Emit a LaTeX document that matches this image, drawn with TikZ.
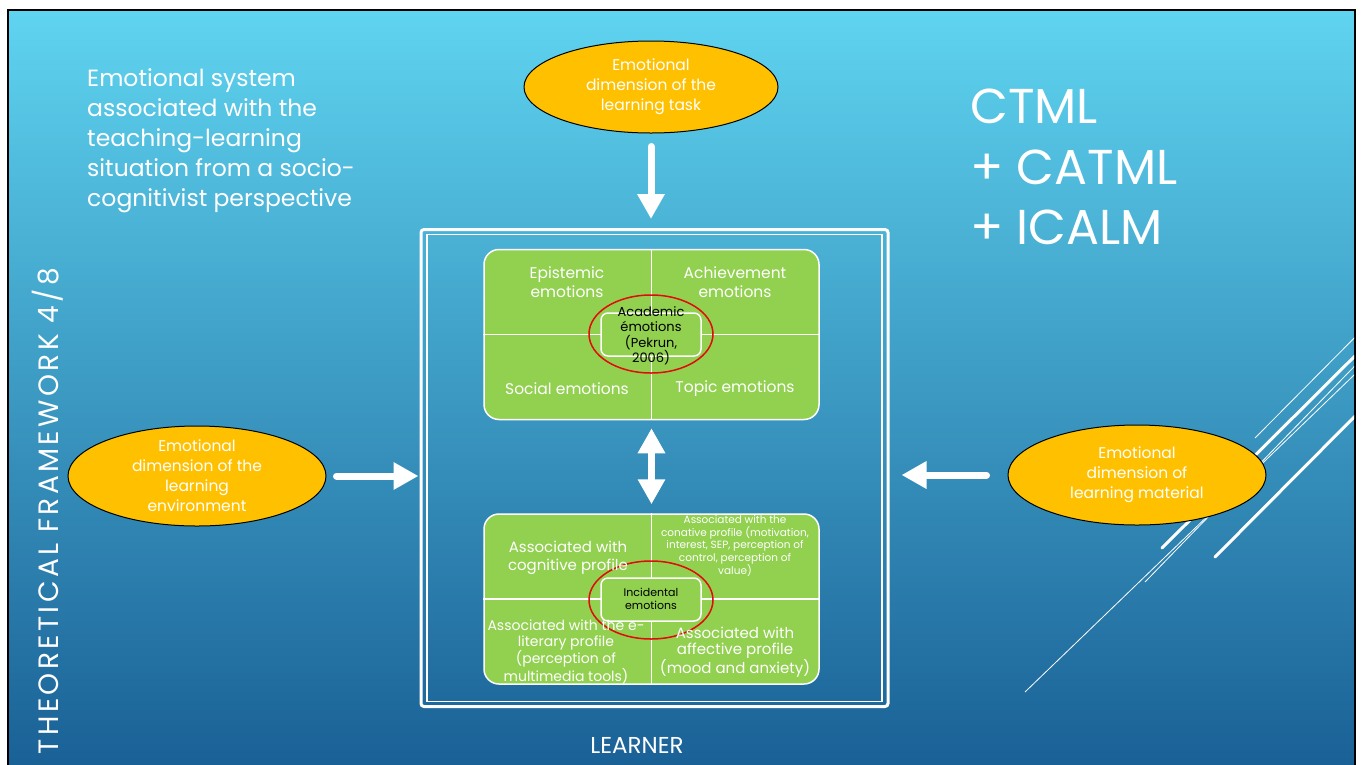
\documentclass[tikz,border=0pt]{standalone}
\usepackage{fontspec}
\setmainfont{Poppins}
\usetikzlibrary{shapes.geometric,arrows.meta,positioning,calc}

\definecolor{slidetop}{RGB}{95,212,240}
\definecolor{slidemid}{RGB}{62,163,206}
\definecolor{slidebot}{RGB}{24,94,148}
\definecolor{dimyellow}{RGB}{255,192,0}
\definecolor{boxgreen}{RGB}{146,208,80}
\definecolor{ringred}{RGB}{226,10,10}

\begin{document}
\begin{tikzpicture}[
    x=1pt, y=-1pt,
    % --- node styles ---
    dimension/.style = {ellipse, draw=black, line width=1pt, fill=dimyellow,
                        minimum width=258pt, minimum height=100pt, inner sep=0pt},
    dimtxt/.style    = {text=white, align=center, inner sep=0pt,
                        font=\fontsize{15.5}{20}\selectfont},
    quadbox/.style   = {rectangle, draw=white, line width=1.5pt, fill=boxgreen,
                        rounded corners=15pt, minimum width=335pt, minimum height=170pt},
    divider/.style   = {white, line width=1.5pt},
    core/.style      = {rectangle, draw=white, line width=1.5pt, fill=boxgreen,
                        rounded corners=7pt, minimum width=100pt, minimum height=43pt},
    ring/.style      = {ellipse, draw=ringred, line width=1.5pt,
                        minimum width=124pt, minimum height=78pt},
    quadtxt/.style   = {text=white, align=center, inner sep=0pt,
                        font=\fontsize{15.5}{19}\selectfont},
    coretxt/.style   = {text=black, align=center, inner sep=0pt},
    slidetxt/.style  = {text=white, align=left, inner sep=0pt},
    bigarrow/.style  = {white, line width=7pt, line cap=round,
                        -{Triangle[width=26pt,length=25pt]}},
    dblarrow/.style  = {white, line width=7pt,
                        {Triangle[width=26pt,length=25pt]}-{Triangle[width=26pt,length=25pt]}},
]

\useasboundingbox (0,0) rectangle (1363,764);

%============ SLIDE BACKGROUND ============
\draw[black, line width=2pt, top color=slidetop, middle color=slidemid,
      bottom color=slidebot] (8,10) rectangle (1355,780);

% decorative lines on the right
\begin{scope}
  \clip (8,10) rectangle (1354,764);
  \draw[white, line width=0.8pt] (1255,438) -- (1380,312);
  \draw[white, line width=3pt, line cap=round] (1162,548) -- (1380,331);
  \draw[white, line width=0.8pt] (1145,582) -- (1380,340);
  \draw[white, line width=0.8pt] (1025,692) -- (1380,350);
  \draw[white, line width=3pt, line cap=round] (1215,557) -- (1380,391);
\end{scope}

%============ SLIDE TEXTS ============
\node (title) [slidetxt, anchor=north west, font=\fontsize{23.5}{30.2}\selectfont]
  at (87,68)
  {Emotional system\\associated with the\\teaching-learning\\situation from a socio-\\cognitivist perspective};

\node (models) [slidetxt, anchor=north west, font=\fontsize{49}{60.5}\selectfont]
  at (970,89) {CTML\\+ CATML\\+ ICALM};

\node (section) [slidetxt, rotate=90,
                 font=\fontsize{28}{32}\selectfont\addfontfeatures{LetterSpace=12}]
  at (48,511) {THEORETICAL FRAMEWORK 4/8};

%============ LEARNER FRAME ============
\node (learner) [draw=white, line width=3pt, rounded corners=3pt,
                 minimum width=467pt, minimum height=477pt] at (654.5,468) {};
\node (learnerin) [draw=white, line width=1.2pt,
                   minimum width=455pt, minimum height=467pt] at (learner) {};
\node (learnerlbl) [text=white, font=\fontsize{23}{26}\selectfont] at (637,745) {LEARNER};

%============ ACADEMIC EMOTIONS ============
\node (acad) [quadbox] at (651.5,334.5) {};
\draw[divider] (acad.north) -- (acad.south);
\draw[divider] (acad.west) -- (acad.east);
\node (acadcore) [core] at (651,334.5) {};
\node (acadring) [ring] at (651,334) {};

\node (epist)   [quadtxt] at (567,282) {Epistemic\\emotions};
\node (achiev)  [quadtxt] at (735,282) {Achievement\\emotions};
\node (social)  [quadtxt] at (567,389) {Social emotions};
\node (topic)   [quadtxt] at (735,389) {Topic emotions};
\node (acadtxt) [coretxt, font=\fontsize{13}{15.5}\selectfont] at (651,336)
  {Academic\\émotions\\(Pekrun,\\2006)};

%============ INCIDENTAL EMOTIONS ============
\node (incid) [quadbox] at (651.5,599) {};
\draw[divider] (incid.north) -- (incid.south);
\draw[divider] (incid.west) -- (incid.east);
\node (incidcore) [core] at (651,599.5) {};
\node (incidring) [ring] at (651,600) {};

\node (cogn)    [quadtxt, font=\fontsize{15}{18}\selectfont] at (568,558)
  {Associated with\\cognitive profile};
\node (conat)   [quadtxt, font=\fontsize{10.5}{12.5}\selectfont] at (735,546)
  {Associated with the\\conative profile (motivation,\\interest, SEP, perception of\\control, perception of\\value)};
\node (elit)    [quadtxt, font=\fontsize{14}{15.7}\selectfont] at (566,652)
  {Associated with the e-\\literary profile\\(perception of\\multimedia tools)};
\node (affect)  [quadtxt, font=\fontsize{15}{16}\selectfont] at (735,652)
  {Associated with\\affective profile\\(mood and anxiety)};
\node (incidtxt) [coretxt, font=\fontsize{11}{12.5}\selectfont] at (651,599)
  {Incidental\\emotions};

%============ EMOTIONAL DIMENSIONS ============
\node (task)  [dimension, minimum width=254pt, minimum height=92pt] at (651,87) {};
\node (envr)  [dimension] at (197,476) {};
\node (mater) [dimension] at (1137,475) {};

\node (tasktxt)  [dimtxt] at (task)  {Emotional\\dimension of the\\learning task};
\node (envrtxt)  [dimtxt] at (envr)  {Emotional\\dimension of the\\learning\\environment};
\node (matertxt) [dimtxt] at (mater) {Emotional\\dimension of\\learning material};

%============ ARROWS ============
\draw[bigarrow, shorten <=13pt, shorten >=9pt] (task.south) -- (task.south |- learner.north);
\draw[bigarrow, shorten <=10pt, shorten >=1pt] (envr.east) -- (envr.east -| learner.west);
\draw[bigarrow, shorten <=21pt, shorten >=12pt] (mater.west) -- (mater.west -| learner.east);
\draw[dblarrow, shorten <=8pt, shorten >=9pt] (acad.south) -- (incid.north);

\end{tikzpicture}
\end{document}
